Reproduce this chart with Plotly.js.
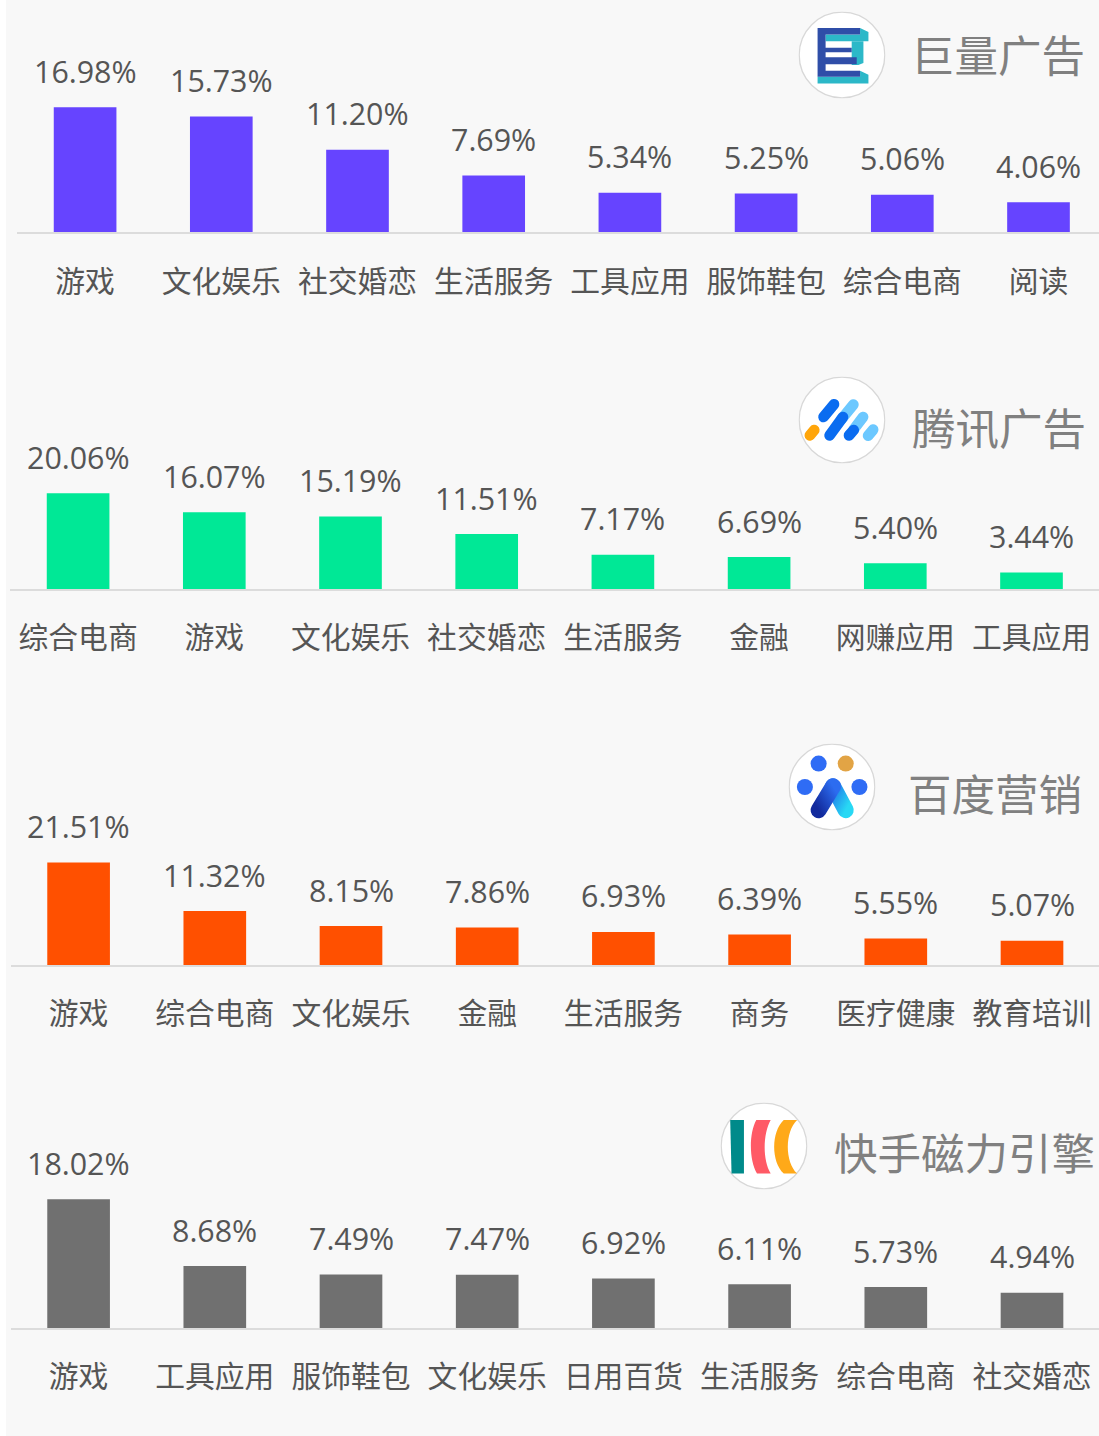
<!DOCTYPE html>
<html><head><meta charset="utf-8">
<script src="https://cdn.plot.ly/plotly-3.0.1.min.js"></script>
<style>html,body{margin:0;padding:0;background:#fff;overflow:hidden}#c{width:1099px;height:1436px}</style>
</head><body><div id="c"></div>
<script>
const W = 1099, H = 1436;
const cats1 = ['游戏','文化娱乐','社交婚恋','生活服务','工具应用','服饰鞋包','综合电商','阅读'];
const vals1 = [16.98,15.73,11.20,7.69,5.34,5.25,5.06,4.06];
const cats2 = ['综合电商','游戏','文化娱乐','社交婚恋','生活服务','金融','网赚应用','工具应用'];
const vals2 = [20.06,16.07,15.19,11.51,7.17,6.69,5.40,3.44];
const cats3 = ['游戏','综合电商','文化娱乐','金融','生活服务','商务','医疗健康','教育培训'];
const vals3 = [21.51,11.32,8.15,7.86,6.93,6.39,5.55,5.07];
const cats4 = ['游戏','工具应用','服饰鞋包','文化娱乐','日用百货','生活服务','综合电商','社交婚恋'];
const vals4 = [18.02,8.68,7.49,7.47,6.92,6.11,5.73,4.94];
const colors = ['#6644ff','#00e896','#ff5000','#707070'];
const headings = ['巨量广告','腾讯广告','百度营销','快手磁力引擎'];

const font = '"Noto Sans CJK SC","Noto Sans",sans-serif';
const numFont = '"Open Sans","Noto Sans CJK SC",sans-serif';
const band = 136.2;
const panels = [
 {c:cats1,v:vals1,left:17,base:232,top:40,ppu:7.34,st:22},
 {c:cats2,v:vals2,left:10,base:589,top:400,ppu:4.77,st:21},
 {c:cats3,v:vals3,left:10.5,base:965,top:760,ppu:4.77,st:21},
 {c:cats4,v:vals4,left:10.5,base:1328,top:1120,ppu:7.14,st:21}
];
const layout = {width:W,height:H,margin:{l:0,r:0,t:0,b:0},paper_bgcolor:'#fff',plot_bgcolor:'rgba(0,0,0,0)',
 showlegend:false,bargap:0.54,
 shapes:[{type:'rect',xref:'paper',yref:'paper',x0:6/W,x1:1,y0:0,y1:1,fillcolor:'#f8f8f8',line:{width:0},layer:'below'}],
 annotations:[],images:[]};
const data = [];
panels.forEach((p,i)=>{
 const n = i+1, s = n===1?'':n;
 data.push({type:'bar',x:p.c,y:p.v,xaxis:'x'+s,yaxis:'y'+s,marker:{color:colors[i]},hoverinfo:'skip'});
 p.v.forEach((v,k)=>layout.annotations.push({xref:'x'+s,yref:'y'+s,x:k,y:v,yshift:36,showarrow:false,
  xanchor:'center',yanchor:'middle',text:v.toFixed(2)+'%',font:{family:numFont,size:30.4,color:'#555'}}));
 layout['xaxis'+s] = {domain:[p.left/W,1],range:[-0.5,(W-p.left)/band-0.5],type:'category',anchor:'y'+s,
  showgrid:false,zeroline:false,showline:true,linecolor:'#dcdcdc',linewidth:2,ticks:'',
  ticklabelstandoff:p.st,tickfont:{family:font,size:29.8,color:'#555'},tickangle:0,fixedrange:true};
 layout['yaxis'+s] = {domain:[1-p.base/H,1-p.top/H],range:[0,(p.base-p.top)/p.ppu],anchor:'x'+s,
  visible:false,fixedrange:true};
});

const heads = [[997.5,53],[998.5,427],[995,792],[964.5,1151]];
heads.forEach((h,i)=>layout.annotations.push({xref:'paper',yref:'paper',x:h[0]/W,y:1-h[1]/H,
 text:headings[i],showarrow:false,xanchor:'center',yanchor:'middle',
 font:{family:font,size:43.5,color:'#808080'}}));

const disc = (cx,cy)=>`<circle cx="${cx}" cy="${cy}" r="128" fill="#fff" stroke="#d8d8d8" stroke-width="4"/>`;
const svg = (vb,body)=>'data:image/svg+xml;utf8,'+encodeURIComponent(
 `<svg xmlns="http://www.w3.org/2000/svg" width="260" height="260" viewBox="${vb}">${body}</svg>`);
const logos = [
 {cx:842,cy:55,src:svg('-19 -19 260 260',disc(111,111)+
  `<path d="M165 30L190 42V70H62V50H165Z" fill="#2cb8c8"/><path d="M140 70H175V135L160 141H140Z" fill="#2cb8c8"/>
   <path d="M165 158L190 170V196H38V176H165Z" fill="#2cb8c8"/>
   <path d="M38 30H165V50H62V89H140V103H62V118H155V139H62V158H165V176H38Z" fill="#2f4ea8"/>`)},
 {cx:842,cy:420,src:svg('57 37 260 260',disc(187,167)+
  `<g stroke-linecap="round" stroke-width="32" fill="none">
   <line x1="185" y1="165" x2="221" y2="121" stroke="#6cc8ff"/><line x1="222" y1="195" x2="250" y2="158" stroke="#6cc8ff"/>
   <line x1="265" y1="214" x2="280" y2="196" stroke="#6cc8ff"/>
   <line x1="132" y1="158" x2="163" y2="120" stroke="#0a6cf0"/><line x1="150" y1="213" x2="190" y2="158" stroke="#0a6cf0"/>
   <line x1="208" y1="213" x2="222" y2="197" stroke="#0a6cf0"/><line x1="91" y1="213" x2="104" y2="197" stroke="#ffa50a"/></g>`)},
 {cx:832,cy:787,src:svg('27 27 260 260',
  `<defs><linearGradient id="a" x1="0" y1="1" x2="1" y2="0"><stop offset="0" stop-color="#122a9c"/><stop offset="1" stop-color="#2c6cf0"/></linearGradient>
   <linearGradient id="b" x1="0" y1="0" x2="1" y2="1"><stop offset="0" stop-color="#1f70e8"/><stop offset="1" stop-color="#28d8f4"/></linearGradient></defs>`+
  disc(157,157)+`<circle cx="117" cy="87" r="24" fill="#2f6cf5"/><circle cx="198" cy="87" r="24" fill="#e2a445"/>
   <circle cx="76" cy="157" r="24" fill="#2f6cf5"/><circle cx="239" cy="157" r="24" fill="#2f6cf5"/>
   <line x1="160" y1="155" x2="198" y2="226" stroke="url(#b)" stroke-width="48" stroke-linecap="round"/>
   <line x1="117" y1="226" x2="160" y2="155" stroke="url(#a)" stroke-width="48" stroke-linecap="round"/>`)},
 {cx:764,cy:1146,src:svg('33 23 260 260',disc(163,153)+
  `<path d="M62 75H103V235H66Z" fill="#008a8a"/><path d="M140 75H183C160 115 158 195 183 235H142C118 195 118 115 140 75Z" fill="#ff5a66"/>
   <path d="M222 75H262C225 110 225 200 262 235H222C184 200 184 110 222 75Z" fill="#ffa919"/>`)}
];
logos.forEach(l=>layout.images.push({source:l.src,xref:'paper',yref:'paper',x:(l.cx-43.5)/W,y:1-(l.cy-43.5)/H,
 sizex:87/W,sizey:87/H,xanchor:'left',yanchor:'top',sizing:'stretch',layer:'above'}));

Plotly.newPlot('c',data,layout,{displayModeBar:false,staticPlot:true});
</script></body></html>
